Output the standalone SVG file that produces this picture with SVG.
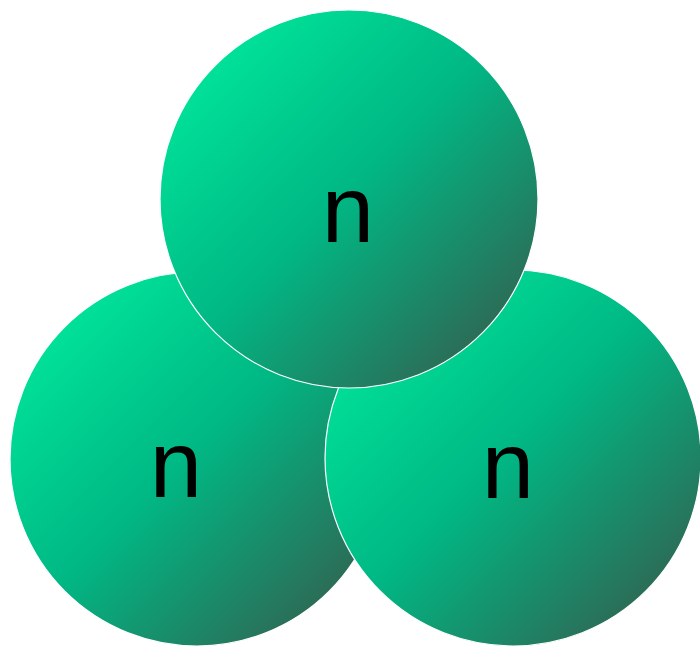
<svg xmlns="http://www.w3.org/2000/svg" width="700" height="648" viewBox="0 0 700 648">
<defs>
<linearGradient id="g" x1="0.1" y1="0.1" x2="0.95" y2="0.95">
<stop offset="0" stop-color="#00e69b"/>
<stop offset="0.45" stop-color="#00b884"/>
<stop offset="1" stop-color="#365a4c"/>
</linearGradient>
</defs>
<style>
.c{fill:url(#g);stroke:#ffffff;stroke-width:1.2}
.t{font-family:"Liberation Sans",Arial,sans-serif;font-size:94px;fill:#000;text-anchor:middle}
</style>
<g id="node-left"><circle class="c" cx="197" cy="459" r="187"/><text class="t" x="176" y="497">n</text></g>
<g id="node-right"><circle class="c" cx="513" cy="458" r="188"/><text class="t" x="508" y="498">n</text></g>
<g id="node-top"><circle class="c" cx="349" cy="199" r="189"/><text class="t" x="348" y="242">n</text></g>
<g id="connectors"/>
</svg>
